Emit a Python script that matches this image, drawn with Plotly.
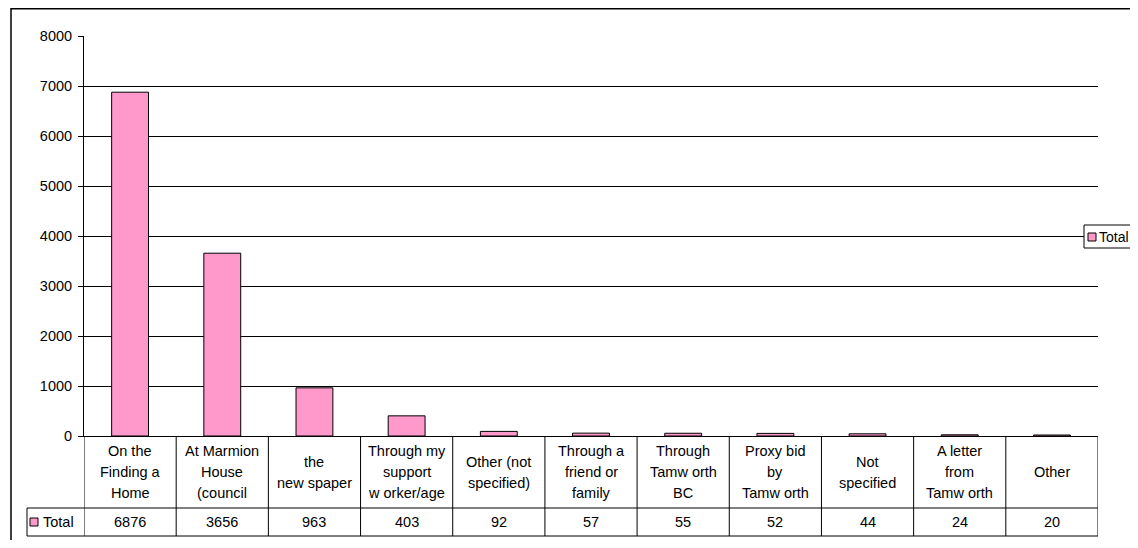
import plotly.graph_objects as go

categories = [
    ["On the", "Finding a", "Home"],
    ["At Marmion", "House", "(council"],
    ["the", "new spaper"],
    ["Through my", "support", "w orker/age"],
    ["Other (not", "specified)"],
    ["Through a", "friend or", "family"],
    ["Through", "Tamw orth", "BC"],
    ["Proxy bid", "by", "Tamw orth"],
    ["Not", "specified"],
    ["A letter", "from", "Tamw orth"],
    ["Other"],
]
values = [6876, 3656, 963, 403, 92, 57, 55, 52, 44, 24, 20]
series_name = "Total"
y_ticks = [0, 1000, 2000, 3000, 4000, 5000, 6000, 7000, 8000]

# page has an 8px body margin, so the figure is sized/positioned to compensate
OFF = 8
W, H = 1138 - OFF, 548 - 2 * OFF
L, R, T = 84 - OFF, 40, 36 - OFF
B = H - (436 - OFF)
PW = W - L - R
PH = H - T - B
FONT = "Liberation Sans, Arial, sans-serif"
FS = 14.5
PINK = "#FF99CC"


def py(p):
    return (H - B - (p - OFF)) / PH


def px(p):
    return (p - OFF - L) / PW


n = len(values)
xs = list(range(n))

fig = go.Figure()
fig.add_trace(go.Bar(
    x=xs, y=values, name=series_name, width=0.4,
    marker=dict(color=PINK, line=dict(color="black", width=1)),
    showlegend=False,
))

shapes = []
annotations = []

# table grid
row1_bottom = 508
row2_bottom = 536
for i in range(n + 1):
    shapes.append(dict(type="line", xref="x", yref="paper",
                       x0=i - 0.5, x1=i - 0.5, y0=0, y1=py(row2_bottom),
                       line=dict(color="black", width=1)))
for yy in (row1_bottom, row2_bottom):
    shapes.append(dict(type="line", xref="paper", yref="paper",
                       x0=px(27), x1=1.0, y0=py(yy), y1=py(yy),
                       line=dict(color="black", width=1)))
shapes.append(dict(type="line", xref="paper", yref="paper",
                   x0=px(27), x1=px(27), y0=py(row1_bottom), y1=py(row2_bottom),
                   line=dict(color="black", width=1)))
# legend key in table
shapes.append(dict(type="rect", xref="paper", yref="paper",
                   x0=px(30), x1=px(38), y0=py(526), y1=py(518),
                   fillcolor=PINK, line=dict(color="black", width=1)))
annotations.append(dict(text=series_name, xref="paper", yref="paper",
                        x=px(41), y=py(522), xanchor="left", yanchor="middle",
                        showarrow=False, font=dict(family=FONT, size=FS, color="black")))

# category labels
line_gap = 21
row1_center = (436 + row1_bottom) / 2
for i, lines in enumerate(categories):
    k = len(lines)
    for j, t in enumerate(lines):
        cy = row1_center + (j - (k - 1) / 2) * line_gap
        annotations.append(dict(text=t, xref="x", yref="paper", x=i, y=py(cy),
                                xanchor="center", yanchor="middle", showarrow=False,
                                font=dict(family=FONT, size=FS, color="black")))
    annotations.append(dict(text=str(values[i]), xref="x", yref="paper", x=i,
                            y=py((row1_bottom + row2_bottom) / 2),
                            xanchor="center", yanchor="middle", showarrow=False,
                            font=dict(family=FONT, size=FS, color="black")))

# outer chart border
shapes.append(dict(type="rect", xref="paper", yref="paper",
                   x0=px(11), x1=px(1160), y0=py(560), y1=py(8.8),
                   line=dict(color="black", width=1.5), fillcolor="rgba(0,0,0,0)"))

# legend (manual)
shapes.append(dict(type="rect", xref="paper", yref="paper",
                   x0=px(1084), x1=px(1150), y0=py(248), y1=py(225),
                   line=dict(color="black", width=1), fillcolor="white"))
shapes.append(dict(type="rect", xref="paper", yref="paper",
                   x0=px(1088), x1=px(1096), y0=py(241), y1=py(233),
                   fillcolor=PINK, line=dict(color="black", width=1)))
annotations.append(dict(text=series_name, xref="paper", yref="paper",
                        x=px(1097), y=py(236.5), xanchor="left", yanchor="middle",
                        showarrow=False, font=dict(family=FONT, size=14, color="black")))

fig.update_layout(
    width=W, height=H,
    margin=dict(l=L, r=R, t=T, b=B, pad=0),
    paper_bgcolor="white", plot_bgcolor="white",
    font=dict(family=FONT, size=FS, color="black"),
    shapes=shapes, annotations=annotations,
    bargap=0.6,
    xaxis=dict(range=[-0.5, n - 0.5], showticklabels=False, ticks="",
               showgrid=False, zeroline=False, showline=True,
               linecolor="black", linewidth=1),
    yaxis=dict(range=[0, 8000], tickvals=y_ticks, ticks="outside", ticklen=5,
               tickcolor="black", showgrid=True, gridcolor="black", gridwidth=1,
               showline=True, linecolor="black", linewidth=1, zeroline=False,
               tickfont=dict(family=FONT, size=FS, color="black"),
               ticklabelstandoff=3),
    showlegend=False,
)

fig.write_html("out.html")
